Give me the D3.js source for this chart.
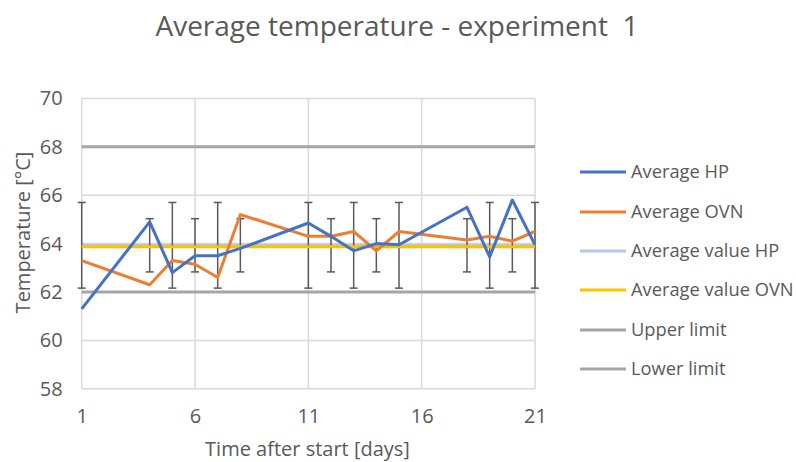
<!DOCTYPE html>
<html><head><meta charset="utf-8">
<script src="https://cdn.jsdelivr.net/npm/d3@7"></script>
<style>body{margin:0;background:#fff}svg{display:block}text{font-family:"Open Sans",sans-serif;fill:#595959}</style>
</head><body><svg id="c" width="796" height="462"></svg>
<script>
const days = [1,4,5,6,7,8,11,12,13,14,15,18,19,20,21];
const avgHP = [61.3,64.9,62.8,63.5,63.5,63.8,64.85,64.3,63.7,64.0,63.95,65.5,63.45,65.8,63.95];
const avgOVN = [63.3,62.3,63.3,63.15,62.6,65.2,64.3,64.3,64.5,63.7,64.5,64.15,64.3,64.1,64.5];
const avgValueHP = 63.93;
const avgValueOVN = 63.87;
const errHP = [1.77,1.1,1.77,1.1,1.77,1.1,1.77,1.1,1.77,1.1,1.77,1.1,1.77,1.1,1.77];
const upperLimit = 68, lowerLimit = 62;
const yTicks = [58,60,62,64,66,68,70];
const xTicks = [1,6,11,16,21];
const legendNames = ["Average HP","Average OVN","Average value HP","Average value OVN","Upper limit","Lower limit"];
const legendColors = ["#4472c4","#ed7d31","#b4c7e7","#ffc000","#a5a5a5","#a5a5a5"];

const svg = d3.select("#c");
const x = d3.scaleLinear().domain([1,21]).range([81.7,535]);
const y = d3.scaleLinear().domain([58,70]).range([388.8,98.4]);

// grid
svg.append("g").selectAll("line").data(yTicks).join("line")
  .attr("x1",x(1)).attr("x2",x(21)).attr("y1",d=>y(d)).attr("y2",d=>y(d))
  .attr("stroke","#d9d9d9").attr("stroke-width",1.5);
svg.append("g").selectAll("line").data(xTicks).join("line")
  .attr("x1",d=>x(d)).attr("x2",d=>x(d)).attr("y1",y(58)).attr("y2",y(70))
  .attr("stroke","#d9d9d9").attr("stroke-width",1.5);

// axes labels
const yAxis = d3.axisLeft(y).tickValues(yTicks).tickSize(0).tickPadding(19);
const ga = svg.append("g").attr("transform",`translate(${x(1)},0)`).call(yAxis);
ga.select(".domain").remove();
ga.selectAll("text").attr("font-size",20).style("font-family","Open Sans").attr("fill","#595959");
const xAxis = d3.axisBottom(x).tickValues(xTicks).tickSize(0).tickPadding(20);
const gx = svg.append("g").attr("transform",`translate(0,${y(58)})`).call(xAxis);
gx.select(".domain").remove();
gx.selectAll("text").attr("font-size",20).style("font-family","Open Sans").attr("fill","#595959");

// limits
svg.append("line").attr("x1",x(1)).attr("x2",x(21)).attr("y1",y(upperLimit)).attr("y2",y(upperLimit))
  .attr("stroke","#a5a5a5").attr("stroke-width",3);
svg.append("line").attr("x1",x(1)).attr("x2",x(21)).attr("y1",y(lowerLimit)).attr("y2",y(lowerLimit))
  .attr("stroke","#a5a5a5").attr("stroke-width",3);

// average value lines
svg.append("line").attr("x1",x(1)).attr("x2",x(21)).attr("y1",y(avgValueHP)).attr("y2",y(avgValueHP))
  .attr("stroke","#b4c7e7").attr("stroke-width",3);

// error bars
const eb = svg.append("g").attr("stroke","#595959").attr("stroke-width",1.5);
days.forEach((d,i)=>{
  const cx = x(d), y1 = y(avgValueHP+errHP[i]), y2 = y(avgValueHP-errHP[i]);
  eb.append("line").attr("x1",cx).attr("x2",cx).attr("y1",y1).attr("y2",y2);
  eb.append("line").attr("x1",cx-4).attr("x2",cx+4).attr("y1",y1).attr("y2",y1);
  eb.append("line").attr("x1",cx-4).attr("x2",cx+4).attr("y1",y2).attr("y2",y2);
});

svg.append("line").attr("x1",x(1)).attr("x2",x(21)).attr("y1",y(avgValueOVN)).attr("y2",y(avgValueOVN))
  .attr("stroke","#ffc000").attr("stroke-width",3);

const line = d3.line().x(d=>x(d[0])).y(d=>y(d[1]));
svg.append("path").datum(days.map((d,i)=>[d,avgOVN[i]])).attr("d",line)
  .attr("fill","none").attr("stroke","#ed7d31").attr("stroke-width",3).attr("stroke-linejoin","round");
svg.append("path").datum(days.map((d,i)=>[d,avgHP[i]])).attr("d",line)
  .attr("fill","none").attr("stroke","#4472c4").attr("stroke-width",3).attr("stroke-linejoin","round");

// title
svg.append("text").attr("x",397).attr("y",36).attr("text-anchor","middle").attr("font-size",28).style("white-space","pre").text("Average temperature - experiment  1");
svg.append("text").attr("x",307.5).attr("y",456).attr("text-anchor","middle").attr("font-size",20).text("Time after start [days]");
svg.append("text").attr("transform","translate(30,232.5) rotate(-90)").attr("text-anchor","middle").attr("font-size",20).text("Temperature [°C]");

// legend
const lg = svg.append("g");
const rowsY = [172,212,251,290,330,369];
legendNames.forEach((n,i)=>{
  lg.append("line").attr("x1",580).attr("x2",626).attr("y1",rowsY[i]).attr("y2",rowsY[i])
    .attr("stroke",legendColors[i]).attr("stroke-width",3);
  lg.append("text").attr("x",631).attr("y",rowsY[i]).attr("dy","0.35em").attr("font-size",18.3).text(n);
});
</script></body></html>
